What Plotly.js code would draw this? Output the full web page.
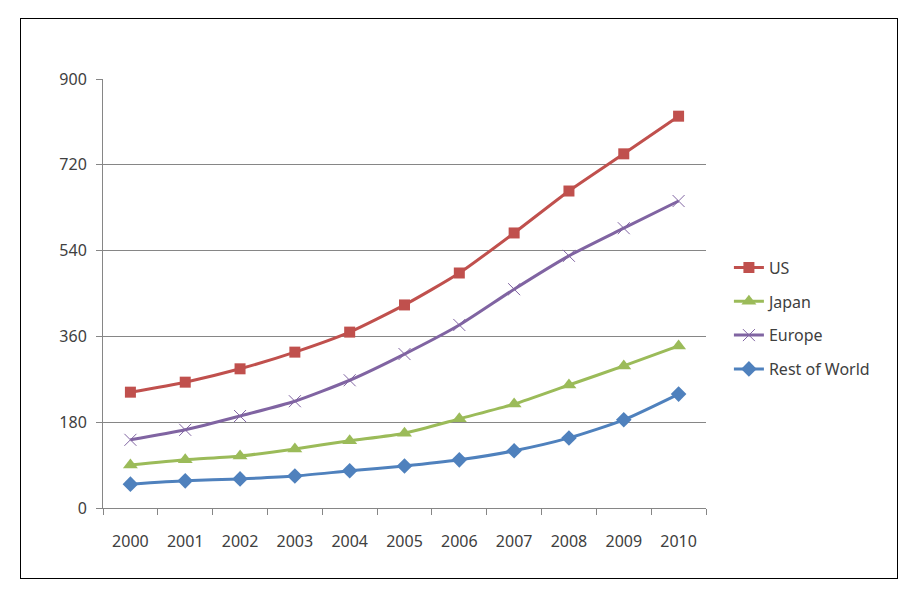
<!DOCTYPE html>
<html>
<head>
<meta charset="utf-8">
<script src="https://cdn.plot.ly/plotly-3.0.1.min.js"></script>
<style>
html,body{margin:0;padding:0;background:#fff;}
#wrap{position:relative;width:915px;height:593px;}
#chart{position:absolute;left:0;top:0;width:915px;height:593px;}
#frame{position:absolute;left:20px;top:18px;width:876px;height:559px;border:1px solid #000;pointer-events:none;}
</style>
</head>
<body>
<div id="wrap"><div id="chart"></div><div id="frame"></div></div>
<script>
const years = ['2000','2001','2002','2003','2004','2005','2006','2007','2008','2009','2010'];
const us = [243, 264, 292, 327, 369, 426, 493, 577, 665, 743, 822];
const japan = [90, 101, 109, 124, 141, 157, 187, 218, 258, 298, 340];
const europe = [143, 164, 193, 224, 268, 323, 384, 459, 529, 587, 644];
const rest = [50, 57, 61, 67, 78, 88, 101, 120, 147, 185, 239];
const yTicks = [0, 180, 360, 540, 720, 900];

const font = {family: '"Noto Sans", "Open Sans", sans-serif', size: 16, color: '#404040'};

function tr(name, y, color, symbol, size, lw) {
  return {
    type: 'scatter', mode: 'lines+markers', name: name, x: years, y: y,
    legendgroup: name,
    line: {color: color, width: 3, shape: 'spline', smoothing: 0.6},
    marker: {symbol: symbol, size: size, color: color, line: {color: color, width: lw}}
  };
}

const data = [
  tr('US', us, '#C0504D', 'square', 11, 0),
  tr('Japan', japan, '#9BBB59', 'triangle-up', 13, 0),
  tr('Europe', europe, '#8064A2', 'x-thin-open', 12, 1),
  tr('Rest of World', rest, '#4F81BD', 'diamond', 12, 0)
];

const layout = {
  width: 915, height: 593,
  margin: {l: 103, r: 209, t: 79, b: 85},
  paper_bgcolor: 'rgba(0,0,0,0)', plot_bgcolor: '#fff',
  font: font,
  showlegend: true,
  legend: {x: 1.038, y: 0.6, xanchor: 'left', yanchor: 'top', font: font,
           traceorder: 'grouped', tracegroupgap: 10, itemwidth: 30, bgcolor: 'rgba(0,0,0,0)'},
  xaxis: {
    type: 'category', range: [-0.5, 10.5], tickson: 'boundaries',
    ticks: 'outside', ticklen: 6, tickcolor: '#868686', tickwidth: 1,
    showline: true, linecolor: '#868686', linewidth: 1, showgrid: false,
    ticklabelstandoff: 19, tickfont: font, fixedrange: true, zeroline: false
  },
  yaxis: {
    range: [0, 900], tickvals: yTicks, ticktext: yTicks.map(String),
    ticks: 'outside', ticklen: 6, tickcolor: '#868686', tickwidth: 1,
    showline: true, linecolor: '#868686', linewidth: 1,
    showgrid: true, gridcolor: '#868686', gridwidth: 1, zeroline: false,
    ticklabelstandoff: 6, tickfont: font, fixedrange: true
  }
};

Plotly.newPlot('chart', data, layout, {displayModeBar: false, staticPlot: true});
</script>
</body>
</html>
